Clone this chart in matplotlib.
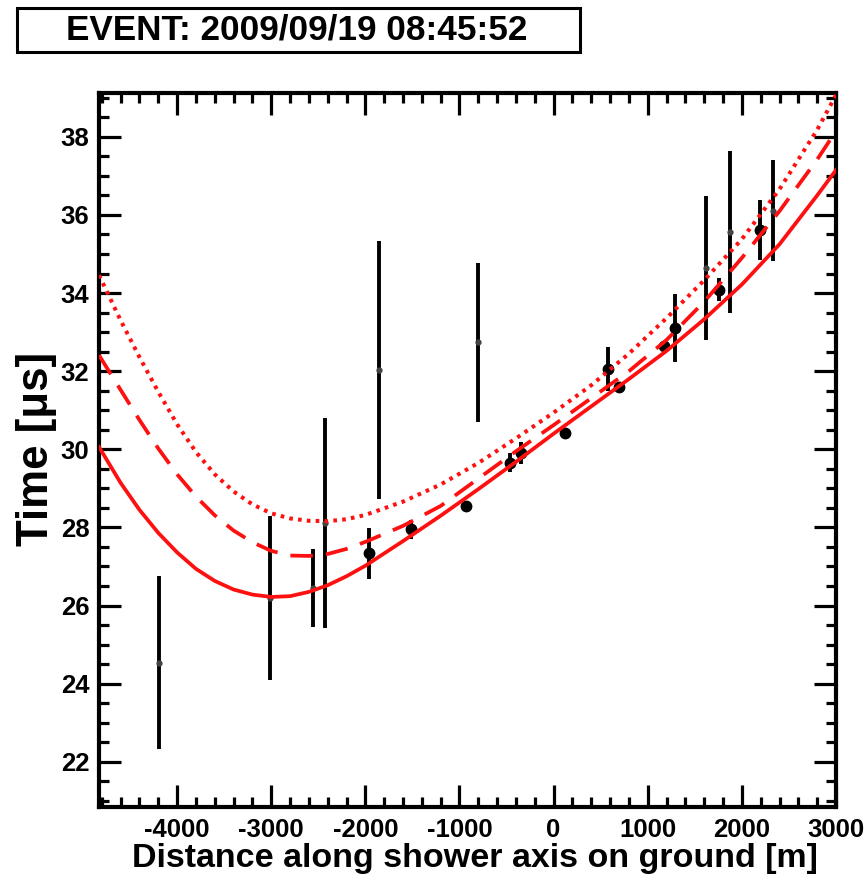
import matplotlib
matplotlib.use('Agg')
import matplotlib.pyplot as plt
from matplotlib.patches import Rectangle
from matplotlib.ticker import MultipleLocator

plt.rcParams['font.family'] = ['Liberation Sans', 'DejaVu Sans']
plt.rcParams['font.weight'] = 'bold'
plt.rcParams['axes.unicode_minus'] = False

# station data: distance along shower axis [m], time [us], error [us]
x_pts = [-4190, -3010, -2555, -2430, -1960, -1850, -1515, -930, -800, -460, -343,
         124, 576, 690, 1168, 1285, 1621, 1752, 1876, 2194, 2335]
t_pts = [24.54, 26.19, 26.44, 28.11, 27.34, 32.03, 27.95, 28.55, 32.74, 29.66, 29.91,
         30.43, 32.06, 31.59, 32.65, 33.11, 34.64, 34.09, 35.56, 35.62, 36.11]
t_err = [2.22, 2.10, 1.00, 2.68, 0.65, 3.31, 0.25, 0.05, 2.04, 0.24, 0.28,
         0.05, 0.57, 0.08, 0.05, 0.87, 1.85, 0.30, 2.08, 0.77, 1.29]

# fitted shower front curves
curve_x = [-4830, -4600, -4400, -4200, -4000, -3800, -3600, -3400, -3200, -3000,
           -2800, -2600, -2400, -2200, -2000, -1600, -1200, -800, -400, 0,
           400, 800, 1200, 1600, 2000, 2400, 2800, 3000]
solid = [30.06, 29.14, 28.45, 27.86, 27.36, 26.94, 26.63, 26.41, 26.28, 26.22,
         26.24, 26.35, 26.52, 26.75, 27.02, 27.65, 28.30, 28.98, 29.68, 30.40,
         31.10, 31.80, 32.52, 33.33, 34.22, 35.25, 36.50, 37.15]
dashed = [32.41, 31.52, 30.75, 30.02, 29.36, 28.79, 28.31, 27.92, 27.62, 27.40,
          27.28, 27.27, 27.32, 27.45, 27.63, 28.04, 28.55, 29.25, 29.95, 30.62,
          31.31, 32.00, 32.80, 33.78, 34.90, 36.10, 37.42, 38.15]
dotted = [34.46, 33.30, 32.36, 31.47, 30.64, 29.93, 29.36, 28.92, 28.59, 28.36,
          28.23, 28.17, 28.16, 28.21, 28.32, 28.66, 29.10, 29.65, 30.28, 30.94,
          31.64, 32.45, 33.36, 34.33, 35.38, 36.66, 38.18, 39.07]

W, H = 866, 877
fig = plt.figure(figsize=(W / 100, H / 100), dpi=100)
ax = fig.add_axes([99 / W, 1 - 806.7 / H, 737 / W, 714 / H])

# error bars, big dots for precise stations, tiny ones for the others
for xi, ti, ei in zip(x_pts, t_pts, t_err):
    ms = 7.5 if ei < 0.95 else 3.5
    mc = 'k' if ei < 0.95 else '#444444'
    ax.errorbar(xi, ti, yerr=ei, fmt='o', color='k', ms=ms, mfc=mc, mec=mc,
                elinewidth=2.8, capsize=0, zorder=2)

# curves on top of the points
ax.plot(curve_x, solid, color='#ff1010', lw=2.7, zorder=3)
ax.plot(curve_x, dashed, color='#ff1010', lw=2.7, dashes=(6, 3.5), zorder=3)
ax.plot(curve_x, dotted, color='#ff1010', lw=2.9, dashes=(0.9, 1.3), zorder=3)

ax.set_xlim(-4830, 3000)
ax.set_ylim(20.85, 39.13)
ax.xaxis.set_major_locator(MultipleLocator(1000))
ax.xaxis.set_minor_locator(MultipleLocator(200))
ax.yaxis.set_major_locator(MultipleLocator(2))
ax.yaxis.set_minor_locator(MultipleLocator(0.5))
ax.tick_params(which='both', direction='in', top=True, right=True, width=2.3,
               labelsize=18.5, color='k')
ax.tick_params(which='major', length=15.5)
ax.tick_params(which='minor', length=7.5)
ax.tick_params(axis='x', pad=8)
ax.tick_params(axis='y', pad=7)
for lab in ax.get_xticklabels() + ax.get_yticklabels():
    lab.set_fontweight('bold')
for sp in ax.spines.values():
    sp.set_linewidth(3)

# axis titles
fig.text(818 / W, 1 - 858 / H, 'Distance along shower axis on ground [m]',
         ha='right', va='center', fontsize=24.5, fontweight='bold')
fig.text(37 / W, 1 - 449 / H, 'Time [\u03bcs]', rotation=90,
         ha='center', va='center', fontsize=31.5, fontweight='bold')

# event box
fig.patches.append(Rectangle((17 / W, 1 - 52 / H), 563 / W, 44 / H,
                             transform=fig.transFigure, fill=False, lw=2.2, ec='k'))
fig.text(297 / W, 1 - 30 / H, 'EVENT: 2009/09/19 08:45:52',
         ha='center', va='center', fontsize=25.3, fontweight='bold')

fig.savefig('out.png', dpi=100)
